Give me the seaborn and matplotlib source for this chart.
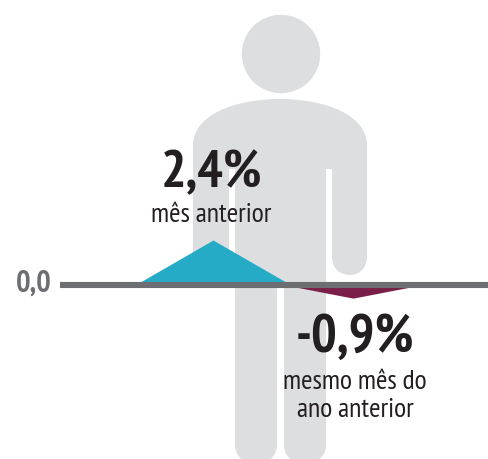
# Person figure with two variation peaks

import matplotlib
matplotlib.use("Agg")
import matplotlib.pyplot as plt
from matplotlib.patches import Circle, PathPatch
from matplotlib.path import Path
import pandas as pd
import seaborn as sns

# ------------------------------------------
# Data
# ------------------------------------------

month_x = [135, 213, 291]
month_values = [0.0, 2.4, 0.0]
year_x = [285, 353, 421]
year_values = [0.0, -0.7, 0.0]  # height as drawn, the label says -0,9

zero_label = "0,0"
month_label = "2,4%"
month_text = "mês anterior"
year_label = "-0,9%"
year_text = "mesmo mês do\nano anterior"

BLUE = "#25abc6"
MAROON = "#7a1f47"
GREY = "#6d6e71"
BODY = "#dcdee0"
DARK = "#231f20"

sns.set_theme(style="white")
plt.rcParams["font.family"] = ["PT Sans Narrow", "Archivo Narrow", "Liberation Sans", "DejaVu Sans"]

fig = plt.figure(figsize=(4.88, 4.59), dpi=100)

# ------------------------------------------
# Silhouette, in pixel coordinates
# ------------------------------------------

bg = fig.add_axes([0, 0, 1, 1])
bg.set_xlim(0, 488)
bg.set_ylim(459, 0)
bg.axis("off")

bg.add_patch(Circle((281, 54), 39.2, color=BODY, lw=0))

M, L, C = Path.MOVETO, Path.LINETO, Path.CURVE4
verts = [
    (193, 145), (193, 115), (235, 99), (280, 99),
    (325, 99), (367, 115), (367, 145),
    (367, 257), (367, 281), (332, 281), (332, 257),
    (332, 169), (326, 169),
    (326, 445), (326, 470), (284, 470), (284, 445),
    (284, 285), (277, 285),
    (277, 445), (277, 470), (235, 470), (235, 445),
    (235, 169), (229, 169),
    (229, 257), (229, 281), (193, 281), (193, 257),
    (193, 145),
]
codes = [M, C, C, C, C, C, C, L, C, C, C, L, L, L, C, C, C, L, L, L, C, C, C, L, L, L, C, C, C, L]
bg.add_patch(PathPatch(Path(verts, codes), facecolor=BODY, lw=0))

# ------------------------------------------
# Peaks
# ------------------------------------------

ax = fig.add_axes([0, 0, 1, 1])
ax.patch.set_alpha(0)
ax.set_xlim(0, 488)
ax.set_ylim(-174 / 18.75, 285 / 18.75)
ax.axis("off")

month_df = pd.DataFrame({"x": month_x, "y": month_values})
year_df = pd.DataFrame({"x": year_x, "y": year_values})

sns.lineplot(data=month_df, x="x", y="y", color=BLUE, linewidth=0, ax=ax)
sns.lineplot(data=year_df, x="x", y="y", color=MAROON, linewidth=0, ax=ax)
ax.fill_between(month_df["x"], month_df["y"], 0, color=BLUE, lw=0)
ax.fill_between(year_df["x"], year_df["y"], 0, color=MAROON, lw=0)
ax.plot([60, 488], [0, 0], color=GREY, lw=4.4, solid_capstyle="butt")

# ------------------------------------------
# Text
# ------------------------------------------

fg = fig.add_axes([0, 0, 1, 1])
fg.patch.set_alpha(0)
fg.set_xlim(0, 488)
fg.set_ylim(459, 0)
fg.axis("off")

fg.text(52, 284, zero_label, color=GREY, fontsize=22, fontweight="bold", ha="right", va="center")
fg.text(212, 174, month_label, color=DARK, fontsize=38.5, fontweight="bold", ha="center", va="center")
fg.text(211.5, 215, month_text, color=DARK, fontsize=20, ha="center", va="center")
fg.text(355, 338, year_label, color=DARK, fontsize=39, fontweight="bold", ha="center", va="center")
fg.text(355, 396, year_text, color=DARK, fontsize=20, ha="center", va="center")

fig.savefig("out.png", dpi=100)
